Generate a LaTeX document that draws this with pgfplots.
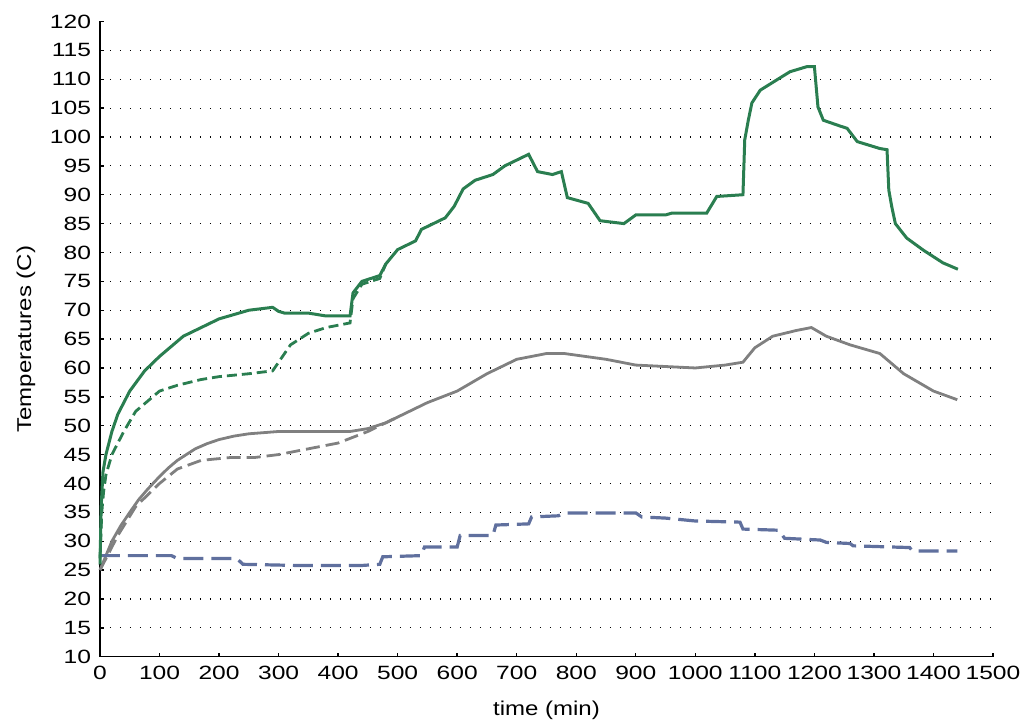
\documentclass[border=0pt]{standalone}
\usepackage{pgfplots}
\pgfplotsset{compat=1.18}
\usepackage{fontspec}
\setmainfont{Liberation Sans}
\newfontfamily\tickfont[FakeStretch=1.28]{Liberation Sans}
\newfontfamily\labfont[FakeStretch=1.2]{Liberation Sans}
\definecolor{cgreen}{RGB}{42,126,80}
\definecolor{cgray}{RGB}{128,128,128}
\definecolor{cblue}{RGB}{96,112,158}
\begin{document}
\begin{tikzpicture}
\begin{axis}[
  scale only axis, width=446.5pt, height=317.6pt,
  xmin=0, xmax=1500, ymin=10, ymax=120,
  axis lines*=left, axis line style={-, line width=0.8pt},
  xtick={0,100,...,1500}, ytick={10,15,...,120},
  tick align=inside, major tick length=2pt,
  tick style={black, line width=0.7pt},
  extra y ticks={15,20,...,115}, extra y tick labels={},
  extra y tick style={ymajorgrids=true, major tick length=0pt},
  major grid style={black, line width=0.6pt, dash pattern=on 0.6pt off 4.4pt},
  /pgf/number format/assume math mode=true,
  /pgf/number format/set thousands separator={},
  tick label style={font=\tickfont\fontsize{9.6}{11}\selectfont},
  xticklabel style={yshift=-1pt},
  yticklabel style={xshift=-1pt},
  xlabel={time (min)}, ylabel={Temperatures (C)},
  label style={font=\labfont\fontsize{10}{12}\selectfont},
  xlabel style={at={([yshift=-27pt]rel axis cs:0.5,0)}, anchor=center},
  ylabel style={at={([xshift=-37pt]rel axis cs:0,0.5)}, anchor=center},
  clip=false,
]
\coordinate (o) at (rel axis cs:0,0);
% gray solid
\addplot[cgray, line width=1.4pt] coordinates {
(0,25) (10,27.5) (20,30) (35,32.7) (50,35) (65,37.2) (80,39) (100,41.2) (115,42.7) (130,44) (145,45) (160,46) (180,46.9) (200,47.6) (225,48.2) (250,48.6) (300,49) (350,49) (420,49) (450,49.5) (480,50.5) (500,51.5) (550,54) (600,56) (650,59) (700,61.5) (750,62.5) (780,62.5) (850,61.5) (900,60.5) (1000,60) (1050,60.5) (1080,61) (1100,63.5) (1130,65.5) (1170,66.5) (1195,67) (1220,65.5) (1260,64) (1310,62.5) (1350,59) (1400,56) (1440,54.5)};
% gray dashed
\addplot[cgray, line width=1.4pt, dash pattern=on 7pt off 3pt] coordinates {
(0,25) (30,31) (60,36) (100,40) (130,42.5) (170,44) (220,44.5) (260,44.5) (300,45) (350,46) (400,47) (450,49) (480,50.5) (500,51.5)};
% blue dashed
\addplot[cblue, line width=1.6pt, dash pattern=on 10pt off 4pt] coordinates {
(0,27.5) (120,27.5) (130,27) (230,27) (240,26) (330,25.8) (440,25.8) (470,26) (475,27.3) (540,27.5) (545,29) (600,29) (605,31) (660,31) (665,32.8) (720,33) (725,34.2) (770,34.4) (780,34.9) (900,34.9) (910,34.2) (950,34) (1000,33.5) (1075,33.3) (1080,32.1) (1140,31.9) (1150,30.5) (1210,30.2) (1220,29.8) (1260,29.6) (1265,29.2) (1360,28.9) (1365,28.3) (1440,28.3)};
% green dashed
\addplot[cgreen, line width=1.4pt, dash pattern=on 5pt off 2.5pt] coordinates {
(0,27) (3,35) (6,38.5) (10,41.5) (20,45) (40,49) (60,52.5) (100,56) (130,57) (170,58) (200,58.5) (250,59) (290,59.5) (300,61) (320,64) (350,66) (380,67) (420,67.8) (425,72) (440,74.5) (470,75.5) (480,78)};
% green solid
\addplot[cgreen, line width=1.5pt] coordinates {
(0,26) (2,36) (5,42) (10,45) (20,49) (30,52) (50,56) (75,59.5) (100,62) (140,65.5) (200,68.5) (250,70) (290,70.5) (300,69.8) (310,69.5) (350,69.5) (380,69) (420,69) (425,73) (440,75) (470,76) (480,78) (500,80.5) (530,82) (540,84) (580,86) (595,88) (610,91) (630,92.5) (660,93.5) (680,95) (700,96) (720,97) (735,94) (760,93.5) (775,94) (785,89.5) (820,88.5) (840,85.5) (880,85) (900,86.5) (950,86.5) (960,86.8) (1019,86.8) (1036,89.7) (1080,90) (1083,99.5) (1089,102.9) (1095,105.9) (1109,108.1) (1137,109.9) (1159,111.3) (1188,112.2) (1200,112.2) (1206,105.2) (1215,102.9) (1243,101.9) (1255,101.5) (1272,99.2) (1310,98) (1322,97.8) (1325,90.8) (1330,87.9) (1336,85) (1355,82.5) (1383,80.4) (1416,78.2) (1441,77.1)};
\end{axis}
\pgfresetboundingbox
\path[use as bounding box] ([xshift=-50pt,yshift=-32.65pt]o) rectangle ([xshift=462.5pt,yshift=328.35pt]o);
\end{tikzpicture}
\end{document}
